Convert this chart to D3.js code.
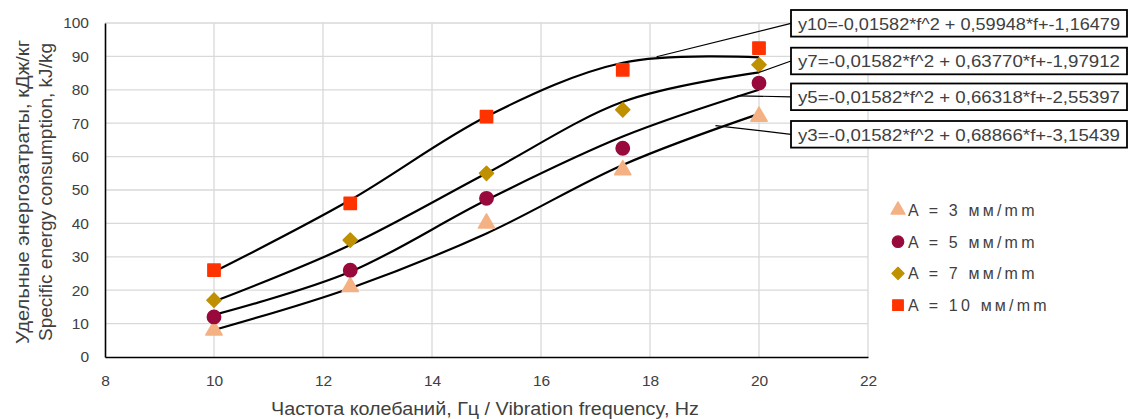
<!DOCTYPE html>
<html>
<head>
<meta charset="utf-8">
<script src="https://cdn.jsdelivr.net/npm/d3@7"></script>
<style>
  body { margin: 0; background: #fff; }
  text { font-family: "Liberation Sans", Arial, sans-serif; fill: #404040; }
</style>
</head>
<body>
<div id="chart"></div>
<script>
// measured points (kJ/kg) at each frequency
const freqs = [10, 12.5, 15, 17.5, 20]
const a3 = [8, 21, 40, 56, 72]
const a5 = [12, 26, 47.5, 62.5, 82]
const a7 = [17, 35, 55, 74, 87.5]
const a10 = [26, 46, 72, 86, 92.5]

// fitted curves
const fit3 = [8.1, 20.6, 37, 57.5, 72.8]
const fit5 = [12.6, 25.5, 47, 66, 80]
const fit7 = [16.6, 33.5, 55, 76.4, 85.2]
const fit10 = [25.5, 47, 72, 88.1, 89.7]

const xTicks = [8, 10, 12, 14, 16, 18, 20, 22]
const yTicks = [0, 10, 20, 30, 40, 50, 60, 70, 80, 90, 100]

const legendLabels = ["A = 3 мм/mm", "A = 5 мм/mm", "A = 7 мм/mm", "A = 10 мм/mm"]
const equations = [
    "y10=-0,01582*f^2 + 0,59948*f+-1,16479",
    "y7=-0,01582*f^2 + 0,63770*f+-1,97912",
    "y5=-0,01582*f^2 + 0,66318*f+-2,55397",
    "y3=-0,01582*f^2 + 0,68866*f+-3,15439"
]

const W = 1129, H = 419
const svg = d3.select("#chart").append("svg")
    .attr("width", W)
    .attr("height", H)

const x = d3.scaleLinear().domain([8, 22]).range([105, 868])
const y = d3.scaleLinear().domain([0, 100]).range([357, 23])

// grid
svg.append("g")
    .selectAll("line.h")
    .data(yTicks.slice(1))
    .enter().append("line")
    .attr("x1", x(8)).attr("x2", x(22))
    .attr("y1", d => y(d)).attr("y2", d => y(d))
    .attr("stroke", "#d9d9d9").attr("stroke-width", 1.3)
svg.append("g")
    .selectAll("line.v")
    .data(xTicks.slice(1))
    .enter().append("line")
    .attr("x1", d => x(d)).attr("x2", d => x(d))
    .attr("y1", y(0)).attr("y2", y(100))
    .attr("stroke", "#d9d9d9").attr("stroke-width", 1.3)

// axes
const xAxis = d3.axisBottom(x).tickValues(xTicks).tickSize(0).tickPadding(18)
svg.append("g")
    .attr("transform", `translate(0, ${y(0)})`)
    .call(xAxis)
    .call(g => g.select(".domain").attr("stroke", "#000").attr("stroke-width", 1.6))
    .call(g => g.selectAll("text").attr("font-size", 15.5).attr("fill", "#404040")
        .attr("font-family", "Liberation Sans, Arial, sans-serif"))

const yAxis = d3.axisLeft(y).tickValues(yTicks).tickSize(0).tickPadding(16)
svg.append("g")
    .attr("transform", `translate(${x(8)}, 0)`)
    .call(yAxis)
    .call(g => g.select(".domain").attr("stroke", "#000").attr("stroke-width", 1.6))
    .call(g => g.selectAll("text").attr("font-size", 15.5).attr("fill", "#404040")
        .attr("font-family", "Liberation Sans, Arial, sans-serif"))

// axis titles
svg.append("text")
    .attr("x", 485).attr("y", 415)
    .attr("text-anchor", "middle")
    .attr("font-size", 17.5)
    .attr("textLength", 428)
    .attr("lengthAdjust", "spacingAndGlyphs")
    .text("Частота колебаний, Гц / Vibration frequency, Hz")

const yTitle = svg.append("text")
    .attr("transform", "translate(0, 192) rotate(-90)")
    .attr("text-anchor", "middle")
    .attr("font-size", 17.5)
yTitle.append("tspan").attr("x", 0).attr("y", 29)
    .attr("textLength", 304).attr("lengthAdjust", "spacingAndGlyphs")
    .text("Удельные энергозатраты, кДж/кг")
yTitle.append("tspan").attr("x", 0).attr("y", 52)
    .attr("textLength", 298).attr("lengthAdjust", "spacingAndGlyphs")
    .text("Specific energy consumption, kJ/kg")

// fitted curves
const line = d3.line()
    .x((d, i) => x(freqs[i]))
    .y(d => y(d))
    .curve(d3.curveCardinal.tension(0))

const fits = [fit3, fit5, fit7, fit10]
svg.append("g")
    .selectAll("path")
    .data(fits)
    .enter().append("path")
    .attr("d", d => line(d))
    .attr("fill", "none")
    .attr("stroke", "#000")
    .attr("stroke-width", 2.2)

// markers
const series = [
    { vals: a3, color: "#f4b183", shape: d3.symbolTriangle, size: 115, rot: 0 },
    { vals: a5, color: "#990a3c", shape: d3.symbolCircle, size: 140, rot: 0 },
    { vals: a7, color: "#bf9000", shape: d3.symbolSquare, size: 100, rot: 45 },
    { vals: a10, color: "#ff3300", shape: d3.symbolSquare, size: 150, rot: 0 }
]

series.forEach(s => {
    svg.append("g")
        .selectAll("path")
        .data(s.vals)
        .enter().append("path")
        .attr("transform", (d, i) => `translate(${x(freqs[i])}, ${y(d)}) rotate(${s.rot})`)
        .attr("d", d3.symbol().type(s.shape).size(s.size))
        .attr("fill", s.color)
        .attr("stroke", s.color)
        .attr("stroke-width", 1.5)
        .attr("stroke-linejoin", "round")
})

// legend
const legend = svg.append("g")
series.forEach((s, i) => {
    const ly = 210 + i * 31.7
    legend.append("path")
        .attr("transform", `translate(898, ${ly}) rotate(${s.rot})`)
        .attr("d", d3.symbol().type(s.shape).size(s.size * 0.75))
        .attr("fill", s.color)
        .attr("stroke", s.color)
        .attr("stroke-width", 1.2)
        .attr("stroke-linejoin", "round")
    legend.append("text")
        .attr("x", 908).attr("y", ly + 6)
        .attr("font-size", 16)
        .attr("letter-spacing", 3.2)
        .text(legendLabels[i])
})

// equation labels with leader lines (leader target = point on a fit curve)
const boxTops = [10, 47.7, 83.5, 121]
const leaderTo = [[18.12, 89.9], [20, 85.2], [19.6, 78.2], [19.2, 69.3]]
equations.forEach((eq, i) => {
    const top = boxTops[i]
    svg.append("line")
        .attr("x1", 791).attr("y1", top + 13.3)
        .attr("x2", x(leaderTo[i][0])).attr("y2", y(leaderTo[i][1]))
        .attr("stroke", "#000").attr("stroke-width", 1.2)
    svg.append("rect")
        .attr("x", 791).attr("y", top)
        .attr("width", 336).attr("height", 26.6)
        .attr("fill", "#fff")
        .attr("stroke", "#000").attr("stroke-width", 1.8)
    svg.append("text")
        .attr("x", 959).attr("y", top + 19.5)
        .attr("text-anchor", "middle")
        .attr("font-size", 17)
        .attr("fill", "#000")
        .attr("textLength", 322)
        .attr("lengthAdjust", "spacingAndGlyphs")
        .text(eq)
})
</script>
</body>
</html>
